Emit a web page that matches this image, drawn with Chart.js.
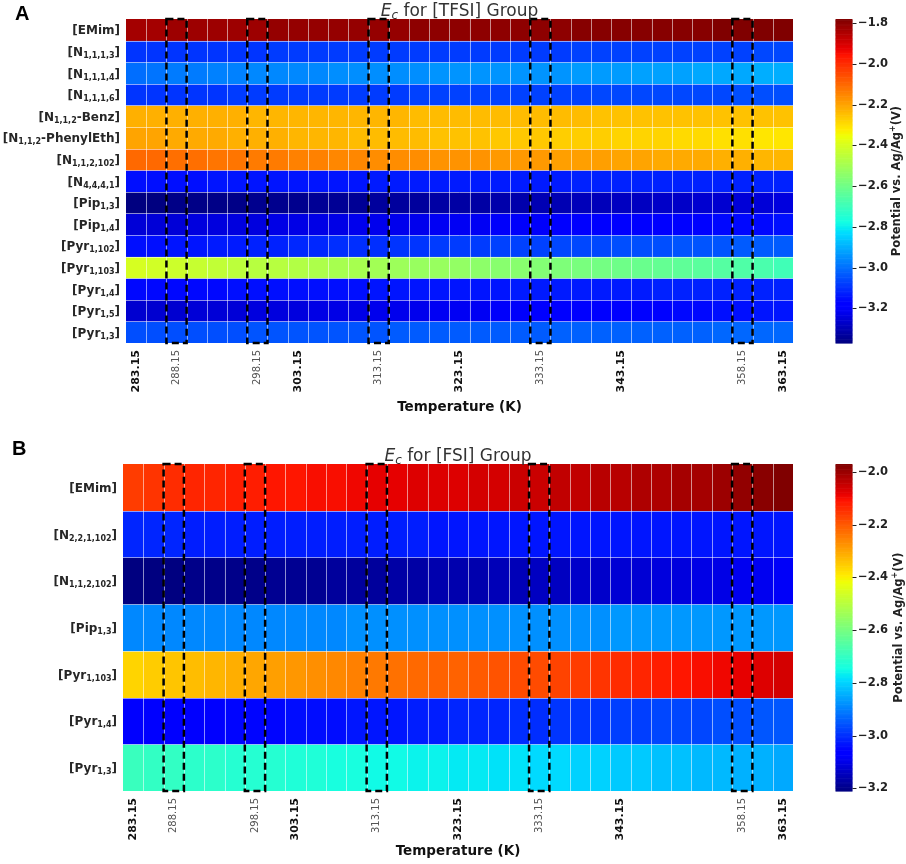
<!DOCTYPE html>
<html><head><meta charset="utf-8">
<script src="https://cdn.jsdelivr.net/npm/chart.js@4.4.0/dist/chart.umd.min.js"></script>
<style>
html,body{margin:0;padding:0;background:#fff;}
canvas{position:absolute;left:0;}
#cA{top:0;}
#cB{top:420px;}
</style></head><body>
<canvas id="cA" width="906" height="420" style="width:906px;height:420px"></canvas>
<canvas id="cB" width="906" height="444" style="width:906px;height:444px"></canvas>
<script>
// ---------- DATA ----------
const temps = ['283.15','285.65','288.15','290.65','293.15','295.65','298.15','300.65','303.15','305.65','308.15',
  '310.65','313.15','315.65','318.15','320.65','323.15','325.65','328.15','330.65','333.15','335.65',
  '338.15','340.65','343.15','345.65','348.15','350.65','353.15','355.65','358.15','360.65','363.15'];
const majorTicks = ['283.15','303.15','323.15','343.15','363.15'];
const minorTicks = ['288.15','298.15','313.15','333.15','358.15'];   // also the boxed columns

const rowsA = ['[EMim]','[N{1,1,1,3}]','[N{1,1,1,4}]','[N{1,1,1,6}]','[N{1,1,2}-Benz]','[N{1,1,2}-PhenylEth]',
  '[N{1,1,2,102}]','[N{4,4,4,1}]','[Pip{1,3}]','[Pip{1,4}]','[Pyr{1,102}]','[Pyr{1,103}]','[Pyr{1,4}]','[Pyr{1,5}]','[Pyr{1,3}]'];

const a_EMim = [-1.83,-1.83,-1.82,-1.82,-1.82,-1.82,-1.82,-1.81,-1.81,-1.81,-1.81,
  -1.81,-1.81,-1.81,-1.80,-1.80,-1.80,-1.80,-1.80,-1.80,-1.80,-1.80,
  -1.79,-1.79,-1.79,-1.79,-1.79,-1.79,-1.79,-1.78,-1.78,-1.78,-1.78];
const a_N1113 = [-3.09,-3.09,-3.09,-3.09,-3.09,-3.09,-3.09,-3.08,-3.08,-3.08,-3.08,
  -3.08,-3.08,-3.08,-3.08,-3.08,-3.08,-3.08,-3.08,-3.08,-3.08,-3.08,
  -3.07,-3.07,-3.07,-3.07,-3.07,-3.07,-3.07,-3.07,-3.07,-3.06,-3.06];
const a_N1114 = [-3.00,-2.99,-2.98,-2.98,-2.97,-2.97,-2.96,-2.96,-2.96,-2.96,-2.95,
  -2.95,-2.95,-2.95,-2.95,-2.94,-2.94,-2.94,-2.94,-2.94,-2.94,-2.94,
  -2.93,-2.93,-2.93,-2.92,-2.92,-2.92,-2.91,-2.91,-2.91,-2.90,-2.90];
const a_N1116 = [-3.09,-3.09,-3.09,-3.09,-3.09,-3.08,-3.08,-3.08,-3.08,-3.08,-3.08,
  -3.08,-3.08,-3.08,-3.07,-3.07,-3.07,-3.07,-3.07,-3.07,-3.07,-3.07,
  -3.07,-3.06,-3.06,-3.06,-3.06,-3.06,-3.06,-3.06,-3.05,-3.05,-3.05];
const a_Benz = [-2.22,-2.22,-2.22,-2.22,-2.22,-2.22,-2.23,-2.23,-2.23,-2.23,-2.23,
  -2.23,-2.23,-2.23,-2.24,-2.24,-2.24,-2.24,-2.24,-2.24,-2.24,-2.24,
  -2.24,-2.25,-2.25,-2.25,-2.25,-2.25,-2.25,-2.25,-2.25,-2.25,-2.25];
const a_PhenylEth = [-2.20,-2.20,-2.21,-2.21,-2.21,-2.22,-2.22,-2.22,-2.23,-2.23,-2.23,
  -2.24,-2.24,-2.24,-2.24,-2.25,-2.25,-2.25,-2.26,-2.26,-2.26,-2.27,
  -2.27,-2.27,-2.28,-2.28,-2.28,-2.29,-2.29,-2.30,-2.30,-2.31,-2.31];
const a_N112102 = [-2.10,-2.10,-2.11,-2.11,-2.12,-2.12,-2.13,-2.13,-2.14,-2.14,-2.15,
  -2.15,-2.16,-2.16,-2.16,-2.17,-2.17,-2.17,-2.18,-2.18,-2.18,-2.19,
  -2.19,-2.19,-2.20,-2.20,-2.21,-2.21,-2.21,-2.22,-2.22,-2.23,-2.23];
const a_N4441 = [-3.15,-3.15,-3.15,-3.15,-3.14,-3.14,-3.14,-3.14,-3.14,-3.14,-3.14,
  -3.14,-3.13,-3.13,-3.13,-3.13,-3.13,-3.13,-3.13,-3.13,-3.13,-3.13,
  -3.12,-3.12,-3.12,-3.12,-3.12,-3.12,-3.12,-3.12,-3.12,-3.12,-3.12];
const a_Pip13 = [-3.37,-3.37,-3.36,-3.36,-3.36,-3.36,-3.35,-3.35,-3.35,-3.34,-3.34,
  -3.34,-3.33,-3.33,-3.33,-3.32,-3.32,-3.32,-3.31,-3.31,-3.30,-3.30,
  -3.29,-3.29,-3.28,-3.28,-3.27,-3.27,-3.26,-3.26,-3.25,-3.25,-3.24];
const a_Pip14 = [-3.25,-3.25,-3.25,-3.24,-3.24,-3.24,-3.24,-3.23,-3.23,-3.23,-3.23,
  -3.22,-3.22,-3.22,-3.22,-3.21,-3.21,-3.21,-3.20,-3.20,-3.20,-3.19,
  -3.19,-3.19,-3.18,-3.18,-3.18,-3.17,-3.17,-3.16,-3.16,-3.16,-3.15];
const a_Pyr1102 = [-3.15,-3.15,-3.14,-3.14,-3.13,-3.13,-3.12,-3.12,-3.11,-3.11,-3.10,
  -3.10,-3.10,-3.09,-3.09,-3.08,-3.08,-3.08,-3.07,-3.07,-3.07,-3.06,
  -3.06,-3.06,-3.05,-3.05,-3.05,-3.04,-3.04,-3.04,-3.03,-3.03,-3.03];
const a_Pyr1103 = [-2.40,-2.41,-2.42,-2.43,-2.44,-2.45,-2.46,-2.46,-2.47,-2.48,-2.49,
  -2.49,-2.50,-2.51,-2.52,-2.52,-2.53,-2.54,-2.55,-2.55,-2.56,-2.57,
  -2.58,-2.59,-2.60,-2.61,-2.62,-2.63,-2.64,-2.65,-2.66,-2.67,-2.69];
const a_Pyr14 = [-3.16,-3.16,-3.16,-3.16,-3.16,-3.15,-3.15,-3.15,-3.15,-3.15,-3.15,
  -3.15,-3.14,-3.14,-3.14,-3.14,-3.14,-3.14,-3.14,-3.13,-3.13,-3.13,
  -3.13,-3.13,-3.13,-3.13,-3.12,-3.12,-3.12,-3.12,-3.12,-3.12,-3.12];
const a_Pyr15 = [-3.26,-3.26,-3.26,-3.25,-3.25,-3.25,-3.24,-3.24,-3.24,-3.23,-3.23,
  -3.23,-3.22,-3.22,-3.22,-3.21,-3.21,-3.21,-3.20,-3.20,-3.19,-3.19,
  -3.19,-3.18,-3.18,-3.17,-3.17,-3.16,-3.16,-3.15,-3.15,-3.14,-3.14];
const a_Pyr13 = [-3.05,-3.05,-3.05,-3.05,-3.05,-3.05,-3.04,-3.04,-3.04,-3.04,-3.04,
  -3.04,-3.04,-3.03,-3.03,-3.03,-3.03,-3.03,-3.03,-3.03,-3.03,-3.02,
  -3.02,-3.02,-3.02,-3.02,-3.02,-3.02,-3.02,-3.01,-3.01,-3.01,-3.01];

const rowsB = ['[EMim]','[N{2,2,1,102}]','[N{1,1,2,102}]','[Pip{1,3}]','[Pyr{1,103}]','[Pyr{1,4}]','[Pyr{1,3}]'];

const b_EMim = [-2.16,-2.15,-2.14,-2.13,-2.13,-2.12,-2.12,-2.11,-2.11,-2.10,-2.10,
  -2.09,-2.08,-2.08,-2.07,-2.07,-2.07,-2.06,-2.06,-2.05,-2.05,-2.04,
  -2.04,-2.03,-2.03,-2.02,-2.02,-2.01,-2.01,-2.00,-1.99,-1.98,-1.97];
const b_N221102 = [-3.01,-3.01,-3.01,-3.02,-3.02,-3.02,-3.02,-3.02,-3.02,-3.02,-3.02,
  -3.02,-3.02,-3.02,-3.02,-3.03,-3.03,-3.03,-3.03,-3.03,-3.03,-3.03,
  -3.03,-3.03,-3.03,-3.03,-3.03,-3.03,-3.03,-3.03,-3.03,-3.03,-3.03];
const b_N112102 = [-3.21,-3.21,-3.21,-3.20,-3.20,-3.20,-3.20,-3.19,-3.19,-3.19,-3.18,
  -3.18,-3.18,-3.17,-3.17,-3.16,-3.16,-3.16,-3.15,-3.15,-3.14,-3.14,
  -3.13,-3.13,-3.12,-3.12,-3.11,-3.11,-3.10,-3.10,-3.09,-3.09,-3.08];
const b_Pip13 = [-2.89,-2.89,-2.89,-2.89,-2.89,-2.89,-2.89,-2.89,-2.89,-2.89,-2.89,
  -2.88,-2.88,-2.88,-2.88,-2.88,-2.88,-2.88,-2.88,-2.88,-2.88,-2.88,
  -2.88,-2.88,-2.87,-2.87,-2.87,-2.87,-2.87,-2.87,-2.87,-2.87,-2.87];
const b_Pyr1103 = [-2.36,-2.35,-2.34,-2.33,-2.32,-2.31,-2.30,-2.29,-2.28,-2.27,-2.26,
  -2.25,-2.24,-2.23,-2.22,-2.21,-2.21,-2.20,-2.19,-2.18,-2.18,-2.17,
  -2.16,-2.15,-2.14,-2.13,-2.12,-2.11,-2.10,-2.09,-2.08,-2.07,-2.06];
const b_Pyr14 = [-3.07,-3.07,-3.06,-3.06,-3.06,-3.05,-3.05,-3.05,-3.04,-3.04,-3.04,
  -3.03,-3.03,-3.03,-3.02,-3.02,-3.01,-3.01,-3.01,-3.00,-3.00,-2.99,
  -2.99,-2.99,-2.98,-2.98,-2.97,-2.97,-2.97,-2.96,-2.96,-2.95,-2.95];
const b_Pyr13 = [-2.69,-2.70,-2.70,-2.71,-2.71,-2.72,-2.72,-2.72,-2.73,-2.73,-2.74,
  -2.74,-2.75,-2.75,-2.76,-2.76,-2.77,-2.77,-2.78,-2.78,-2.79,-2.79,
  -2.80,-2.80,-2.81,-2.81,-2.82,-2.82,-2.83,-2.83,-2.84,-2.84,-2.85];

const cbTicksA = [-3.2,-3.0,-2.8,-2.6,-2.4,-2.2,-2.0,-1.8];
const cbTicksB = [-3.2,-3.0,-2.8,-2.6,-2.4,-2.2,-2.0];
const rangeA = [-3.37, -1.78];
const rangeB = [-3.21, -1.97];

// ---------- COLORMAP (matplotlib jet) ----------
const JR=[[0,0],[0.35,0],[0.66,1],[0.89,1],[1,0.5]];
const JG=[[0,0],[0.125,0],[0.375,1],[0.64,1],[0.91,0],[1,0]];
const JB=[[0,0.5],[0.11,1],[0.34,1],[0.65,0],[1,0]];
function seg(s,t){for(let i=0;i<s.length-1;i++){const a=s[i],b=s[i+1];if(t<=b[0])return a[1]+(b[1]-a[1])*(t-a[0])/(b[0]-a[0]);}return s[s.length-1][1];}
function jet(t){t=Math.max(0,Math.min(1,t));return 'rgb('+Math.round(255*seg(JR,t))+','+Math.round(255*seg(JG,t))+','+Math.round(255*seg(JB,t))+')';}

const F = '"DejaVu Sans", sans-serif';

function parseLabel(s){
  const parts=[];const re=/\{([^}]*)\}/g;let last=0,m;
  while((m=re.exec(s))){if(m.index>last)parts.push({t:s.slice(last,m.index),sub:false});parts.push({t:m[1],sub:true});last=re.lastIndex;}
  if(last<s.length)parts.push({t:s.slice(last),sub:false});
  return parts;
}
function drawRich(ctx, parts, xRight, y){
  let w=0; parts.forEach(p=>{ctx.font=p.font;p.w=ctx.measureText(p.t).width;w+=p.w;});
  let x=xRight-w;
  parts.forEach(p=>{ctx.font=p.font;ctx.fillText(p.t,x,y+(p.dy||0));x+=p.w;});
  return w;
}

function build(id, o){
  const nR = o.rows.length;
  const datasets = o.values.map((vals, r) => ({
    label: o.rows[r],
    data: vals.map(() => [r - 0.5, r + 0.5]),
    backgroundColor: vals.map(v => jet((v - o.range[0]) / (o.range[1] - o.range[0]))),
    borderWidth: 0, barPercentage: 1, categoryPercentage: 1, grouped: false
  }));
  const overlay = {
    id: 'overlay',
    afterDatasetsDraw(chart){
      const ctx = chart.ctx, ca = chart.chartArea, xs = chart.scales.x, ys = chart.scales.y;
      const cw = xs.getPixelForValue(1) - xs.getPixelForValue(0);
      ctx.save();
      ctx.strokeStyle = 'rgba(255,255,255,0.55)'; ctx.lineWidth = 1;
      ctx.beginPath();
      for (let c = 1; c < temps.length; c++) { const x = Math.round(xs.getPixelForValue(c) - cw/2) + 0.5; ctx.moveTo(x, ca.top); ctx.lineTo(x, ca.bottom); }
      for (let r = 1; r < nR; r++) { const y = Math.round(ys.getPixelForValue(r - 0.5)) + 0.5; ctx.moveTo(ca.left, y); ctx.lineTo(ca.right, y); }
      ctx.stroke();
      ctx.strokeStyle = '#000'; ctx.lineWidth = 2.5; ctx.setLineDash([7, 4]);
      minorTicks.forEach(t => {
        const c = temps.indexOf(t); const x0 = xs.getPixelForValue(c) - cw/2;
        ctx.strokeRect(x0, ca.top, cw, ca.bottom - ca.top);
      });
      ctx.restore();
    },
    afterDraw(chart){
      const ctx = chart.ctx, ca = chart.chartArea, ys = chart.scales.y, cb = chart.scales.cb;
      ctx.save();
      // row labels
      ctx.fillStyle = '#262626'; ctx.textBaseline = 'alphabetic';
      o.rows.forEach((lab, r) => {
        const parts = parseLabel(lab).map(p => ({t:p.t, font: p.sub ? 'bold 8px '+F : 'bold 12px '+F, dy: p.sub ? 2 : 0}));
        drawRich(ctx, parts, ca.left - 6, ys.getPixelForValue(r) + 4.5);
      });
      // title
      ctx.fillStyle = '#333';
      const tp = [{t:'E',font:'italic 17px '+F},{t:'c',font:'italic 12px '+F,dy:3},{t:' for '+o.group+' Group',font:'17px '+F}];
      let tw = 0; tp.forEach(p=>{ctx.font=p.font;tw+=ctx.measureText(p.t).width;});
      drawRich(ctx, tp, (ca.left + ca.right)/2 + tw/2, ca.top - 3);
      // panel letter
      ctx.fillStyle = '#000'; ctx.font = 'bold 20px "Liberation Sans", Arial, sans-serif';
      ctx.textAlign = 'left'; ctx.fillText(o.letter, o.letterX, o.letterY);
      // colorbar
      const bx = ca.right + 42.5, bw = 17, N = 256;
      for (let i = 0; i < N; i++) {
        const v0 = o.range[0] + (o.range[1]-o.range[0]) * i / N, v1 = o.range[0] + (o.range[1]-o.range[0]) * (i+1) / N;
        const y0 = cb.getPixelForValue(v0), y1 = cb.getPixelForValue(v1);
        ctx.fillStyle = jet((i + 0.5) / N); ctx.fillRect(bx, y1, bw, y0 - y1 + 0.6);
      }
      ctx.strokeStyle = '#222'; ctx.lineWidth = 1;
      ctx.beginPath();
      o.cbTicks.forEach(v => { const y = Math.round(cb.getPixelForValue(v)) + 0.5; ctx.moveTo(bx + bw, y); ctx.lineTo(bx + bw + 4, y); });
      ctx.stroke();
      // colorbar label
      ctx.translate(o.cbLabelX, (ca.top + ca.bottom)/2); ctx.rotate(-Math.PI/2);
      ctx.fillStyle = '#222';
      const lp = [{t:'Potential vs. Ag/Ag',font:'bold 11.5px '+F},{t:'+',font:'bold 8px '+F,dy:-5},{t:'(V)',font:'bold 11.5px '+F}];
      let lw = 0; lp.forEach(p=>{ctx.font=p.font;lw+=ctx.measureText(p.t).width;});
      drawRich(ctx, lp, lw/2, 4);
      ctx.restore();
    }
  };
  return new Chart(document.getElementById(id), {
    type: 'bar',
    data: { labels: temps, datasets },
    options: {
      responsive: false, animation: false,
      layout: { autoPadding: false, padding: { top: o.top, left: 0, right: 0, bottom: 0 } },
      plugins: { legend: { display: false }, tooltip: { enabled: false } },
      scales: {
        x: {
          type: 'category', offset: true,
          grid: { display: false, drawTicks: false }, border: { display: false },
          ticks: {
            autoSkip: false, minRotation: 90, maxRotation: 90, padding: 7,
            callback: (v, i) => (majorTicks.includes(temps[i]) || minorTicks.includes(temps[i])) ? temps[i] : '',
            font: ctx => majorTicks.includes(temps[ctx.index]) ? { family: F, size: 11, weight: 'bold' } : { family: F, size: 10, weight: 'normal' },
            color: ctx => majorTicks.includes(temps[ctx.index]) ? '#111' : '#555'
          },
          title: { display: true, text: 'Temperature (K)', color: '#111', font: { family: F, size: 13.5, weight: 'bold' }, padding: { top: 4, bottom: 4 } },
          afterFit: s => { s.height = o.xh; s.paddingLeft = 0; s.paddingRight = 0; }
        },
        y: {
          type: 'linear', reverse: true, min: -0.5, max: nR - 0.5,
          grid: { display: false }, border: { display: false }, ticks: { display: false },
          afterFit: s => { s.width = o.yw; s.paddingTop = 0; s.paddingBottom = 0; }
        },
        cb: {
          type: 'linear', position: 'right', min: o.range[0], max: o.range[1],
          grid: { display: false, drawTicks: false }, border: { display: false },
          afterBuildTicks: s => { s.ticks = o.cbTicks.map(v => ({ value: v })); },
          ticks: { padding: 65, color: '#222', font: { family: F, size: 11.5, weight: 'bold' },
            callback: v => v.toFixed(1).replace('-', '\u2212') },
          afterFit: s => { s.width = 113; s.paddingTop = 0; s.paddingBottom = 0; }
        }
      }
    },
    plugins: [overlay]
  });
}

build('cA', { rows: rowsA,
  values: [a_EMim,a_N1113,a_N1114,a_N1116,a_Benz,a_PhenylEth,a_N112102,a_N4441,a_Pip13,a_Pip14,a_Pyr1102,a_Pyr1103,a_Pyr14,a_Pyr15,a_Pyr13],
  range: rangeA, cbTicks: cbTicksA, group: '[TFSI]', letter: 'A', letterX: 15, letterY: 20,
  top: 19, yw: 126, xh: 77, cbLabelX: 896 });
build('cB', { rows: rowsB,
  values: [b_EMim,b_N221102,b_N112102,b_Pip13,b_Pyr1103,b_Pyr14,b_Pyr13],
  range: rangeB, cbTicks: cbTicksB, group: '[FSI]', letter: 'B', letterX: 12, letterY: 35,
  top: 44, yw: 123, xh: 73, cbLabelX: 898 });
</script>
</body></html>
